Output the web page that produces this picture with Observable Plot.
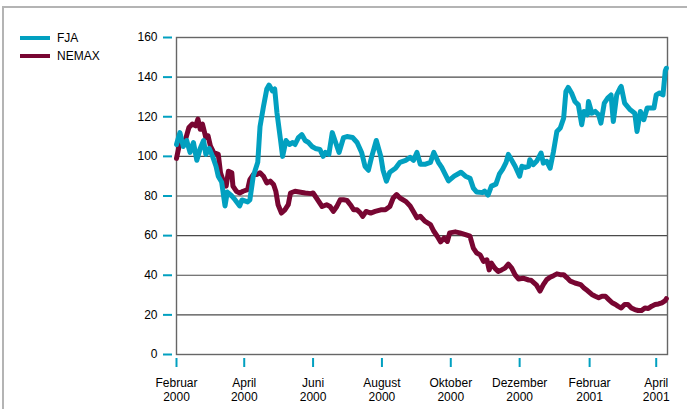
<!DOCTYPE html>
<html><head><meta charset="utf-8">
<script src="https://cdn.jsdelivr.net/npm/d3@7"></script>
<script src="https://cdn.jsdelivr.net/npm/@observablehq/plot@0.6"></script>
<style>
html,body{margin:0;padding:0;background:#fff;}
#wrap{position:relative;width:687px;height:409px;overflow:hidden;font-family:"Liberation Sans",Arial,sans-serif;}
#border{position:absolute;left:2px;top:6px;right:-10px;bottom:-10px;border-top:2px solid #b4b4b4;border-left:2px solid #b4b4b4;}
#chart{position:absolute;left:0;top:0;}
#legend{position:absolute;left:20px;top:29px;font-size:12px;color:#000;}
.item{display:flex;align-items:center;height:18px;}
.sw{width:30px;height:4px;margin-right:7px;}
</style></head>
<body><div id="wrap"><div id="border"></div><div id="chart"></div><div id="legend"></div></div>
<script>
const CYAN = "#02a0c0";
const MAROON = "#780632";

const seriesNames = ["FJA", "NEMAX"];
const yTicks = [0, 20, 40, 60, 80, 100, 120, 140, 160];
const monthDates = ["2000-02-01","2000-04-01","2000-06-01","2000-08-01","2000-10-01","2000-12-01","2001-02-01","2001-04-01"];
const monthLabels = ["Februar\n2000","April\n2000","Juni\n2000","August\n2000","Oktober\n2000","Dezember\n2000","Februar\n2001","April\n2001"];

const fjaDates = ["2000-02-01","2000-02-04","2000-02-07","2000-02-10","2000-02-13","2000-02-16","2000-02-19","2000-02-22","2000-02-25","2000-02-27","2000-03-01","2000-03-04","2000-03-07","2000-03-09","2000-03-12","2000-03-15","2000-03-17","2000-03-21","2000-03-24","2000-03-28","2000-03-30","2000-04-04","2000-04-06","2000-04-09","2000-04-13","2000-04-15","2000-04-18","2000-04-21","2000-04-23","2000-04-26","2000-04-28","2000-04-30","2000-05-03","2000-05-05","2000-05-08","2000-05-11","2000-05-14","2000-05-16","2000-05-19","2000-05-22","2000-05-25","2000-05-28","2000-05-31","2000-06-03","2000-06-07","2000-06-10","2000-06-12","2000-06-15","2000-06-18","2000-06-21","2000-06-24","2000-06-28","2000-07-01","2000-07-06","2000-07-10","2000-07-14","2000-07-17","2000-07-20","2000-07-23","2000-07-27","2000-07-31","2000-08-02","2000-08-05","2000-08-08","2000-08-13","2000-08-17","2000-08-22","2000-08-26","2000-08-29","2000-09-01","2000-09-04","2000-09-08","2000-09-13","2000-09-16","2000-09-20","2000-09-23","2000-09-26","2000-09-29","2000-10-04","2000-10-10","2000-10-14","2000-10-18","2000-10-21","2000-10-24","2000-10-29","2000-10-31","2000-11-03","2000-11-06","2000-11-10","2000-11-13","2000-11-16","2000-11-19","2000-11-21","2000-11-24","2000-11-27","2000-12-01","2000-12-03","2000-12-06","2000-12-09","2000-12-10","2000-12-13","2000-12-16","2000-12-20","2000-12-22","2000-12-25","2000-12-28","2000-12-31","2001-01-03","2001-01-06","2001-01-09","2001-01-11","2001-01-13","2001-01-16","2001-01-19","2001-01-22","2001-01-25","2001-01-27","2001-01-30","2001-01-31","2001-02-03","2001-02-06","2001-02-09","2001-02-11","2001-02-14","2001-02-17","2001-02-20","2001-02-22","2001-02-25","2001-02-28","2001-03-01","2001-03-04","2001-03-09","2001-03-13","2001-03-15","2001-03-18","2001-03-21","2001-03-24","2001-03-27","2001-03-30","2001-04-01","2001-04-04","2001-04-07","2001-04-09","2001-04-10"];
const fjaValues = [106,112,105,108,102,107,98,104,108,101,104,100,95,90,87,75,82,80,78,75,78,77,78,90,97,115,125,134,136,133,134,122,109,100,108,106,107,106,109.5,111,108,107,105,104,103.5,100,102,101,112,107,102,109.5,110,109.5,107,102,95,93,100,108,100,93,87.5,92,94,97,98,99.5,98,102,96,96,97,102,97,94.4,91,87.6,90,92,90,89,84,82,81.7,82.5,80.5,85,86,91,93.6,97,101,98,95,90,95,94.4,95,98.3,95.8,97.5,101.7,96.6,97.5,94,102.5,112.6,114.3,119.3,132.8,134.8,132,127.7,126,116,122.7,121,127.7,121.8,122.7,121,116.8,126.9,129.4,131,117.6,131,134.5,135.3,126.9,123.5,121.8,112.6,122.7,118.5,124.4,124.4,124.4,131,132,131,143,144.5];

const nemaxDates = ["2000-02-01","2000-02-04","2000-02-09","2000-02-12","2000-02-15","2000-02-18","2000-02-20","2000-02-22","2000-02-24","2000-02-27","2000-02-29","2000-03-02","2000-03-05","2000-03-09","2000-03-11","2000-03-13","2000-03-16","2000-03-18","2000-03-21","2000-03-22","2000-03-25","2000-03-28","2000-03-31","2000-04-04","2000-04-06","2000-04-09","2000-04-12","2000-04-15","2000-04-18","2000-04-21","2000-04-24","2000-04-27","2000-04-29","2000-05-01","2000-05-04","2000-05-07","2000-05-10","2000-05-12","2000-05-16","2000-05-21","2000-05-25","2000-05-30","2000-06-01","2000-06-04","2000-06-09","2000-06-13","2000-06-16","2000-06-19","2000-06-22","2000-06-25","2000-06-28","2000-07-01","2000-07-04","2000-07-07","2000-07-10","2000-07-13","2000-07-15","2000-07-18","2000-07-22","2000-07-26","2000-07-31","2000-08-04","2000-08-08","2000-08-11","2000-08-14","2000-08-17","2000-08-22","2000-08-26","2000-08-30","2000-09-01","2000-09-04","2000-09-08","2000-09-13","2000-09-16","2000-09-19","2000-09-22","2000-09-25","2000-09-28","2000-09-30","2000-10-05","2000-10-09","2000-10-14","2000-10-18","2000-10-21","2000-10-24","2000-10-27","2000-10-30","2000-11-02","2000-11-04","2000-11-06","2000-11-09","2000-11-12","2000-11-15","2000-11-18","2000-11-21","2000-11-24","2000-11-27","2000-11-30","2000-12-04","2000-12-09","2000-12-11","2000-12-13","2000-12-16","2000-12-19","2000-12-22","2000-12-25","2000-12-28","2000-12-31","2001-01-03","2001-01-06","2001-01-09","2001-01-12","2001-01-15","2001-01-19","2001-01-24","2001-01-27","2001-01-30","2001-02-03","2001-02-06","2001-02-09","2001-02-12","2001-02-15","2001-02-18","2001-02-21","2001-02-24","2001-02-26","2001-03-01","2001-03-04","2001-03-07","2001-03-10","2001-03-13","2001-03-16","2001-03-19","2001-03-22","2001-03-25","2001-03-28","2001-03-31","2001-04-03","2001-04-06","2001-04-09","2001-04-10"];
const nemaxValues = [99,107,108.6,114.6,116.3,115.4,118.8,113.7,116.3,109.5,110.3,105.3,101.9,101,91.7,88.3,85,92.5,91.7,85,82.4,81.5,82.4,83.2,88.3,90.8,90.8,91.7,90,86.6,87.5,85.8,82.4,75.6,71.4,73,75.6,81.5,82.4,81.9,81.5,81.2,81.5,79,74.7,75.6,74.7,72.2,74.7,78.1,78.1,77.8,75.6,73,73,71.4,69.7,72.2,71.4,72.2,73,73,74.7,79,80.7,79,77.3,75,71,69,69.8,67.3,65.6,62.2,59.7,56.8,58.8,57.1,61.4,61.9,61.4,60.5,59.7,53.7,51.2,50.3,47,47.8,42.7,46.1,43.6,41.9,42.7,43.6,45.6,43.6,40.2,38.1,38.5,37.6,37.5,36.5,35,32,35.3,37.8,39,39.8,40.7,40.3,40.3,38.7,37,36.1,35.3,33.6,32.3,30.3,29.4,28.6,29.4,29.4,27.7,26.1,25.2,24.4,23.5,25.2,25.2,23.5,22.7,22.2,22.2,23.5,23.2,24.4,25.2,25.5,26.1,27.2,28.2];

const parse = d3.utcParse("%Y-%m-%d");
const fja = fjaDates.map((d, i) => ({date: parse(d), value: fjaValues[i]}));
const nemax = nemaxDates.map((d, i) => ({date: parse(d), value: nemaxValues[i]}));
const tickDates = monthDates.map(parse);
const labelMap = new Map(tickDates.map((d, i) => [+d, monthLabels[i]]));

const chart = Plot.plot({
  width: 687, height: 409,
  marginLeft: 176, marginRight: 20, marginTop: 37, marginBottom: 55,
  style: {fontFamily: "'Liberation Sans', Arial, sans-serif", fontSize: "12px", background: "transparent", color: "#000", overflow: "visible"},
  x: {type: "utc", domain: [parse("2000-02-01"), parse("2001-04-11")]},
  y: {domain: [0, 160]},
  marks: [
    Plot.ruleY(yTicks.filter(v => v > 0 && v < 160), {stroke: "#4a4a4a", strokeWidth: 1.2}),
    Plot.frame({stroke: "#666", strokeWidth: 1.4}),
    Plot.axisY(yTicks, {tickSize: 9, dx: -4, color: CYAN, strokeWidth: 2, tickFormat: () => "", label: null}),
    Plot.axisY(yTicks, {tickSize: 0, tickPadding: 15, dx: -4, color: "#000", fontSize: 12, label: null}),
    Plot.axisX(tickDates, {tickSize: 9, dy: 4, color: CYAN, strokeWidth: 2, tickFormat: () => "", label: null}),
    Plot.axisX(tickDates, {tickSize: 0, tickPadding: 18, dy: 4, color: "#000", fontSize: 12, lineHeight: 1.18, tickFormat: d => labelMap.get(+d), label: null}),
    Plot.line(nemax, {x: "date", y: "value", stroke: MAROON, strokeWidth: 5, strokeLinejoin: "round"}),
    Plot.line(fja, {x: "date", y: "value", stroke: CYAN, strokeWidth: 5, strokeLinejoin: "round"})
  ]
});
document.getElementById("chart").appendChild(chart);

const colors = [CYAN, MAROON];
const legend = document.getElementById("legend");
seriesNames.forEach((name, i) => {
  const item = document.createElement("div");
  item.className = "item";
  item.innerHTML = `<span class="sw" style="background:${colors[i]}"></span><span>${name}</span>`;
  legend.appendChild(item);
});
</script>
</body></html>
